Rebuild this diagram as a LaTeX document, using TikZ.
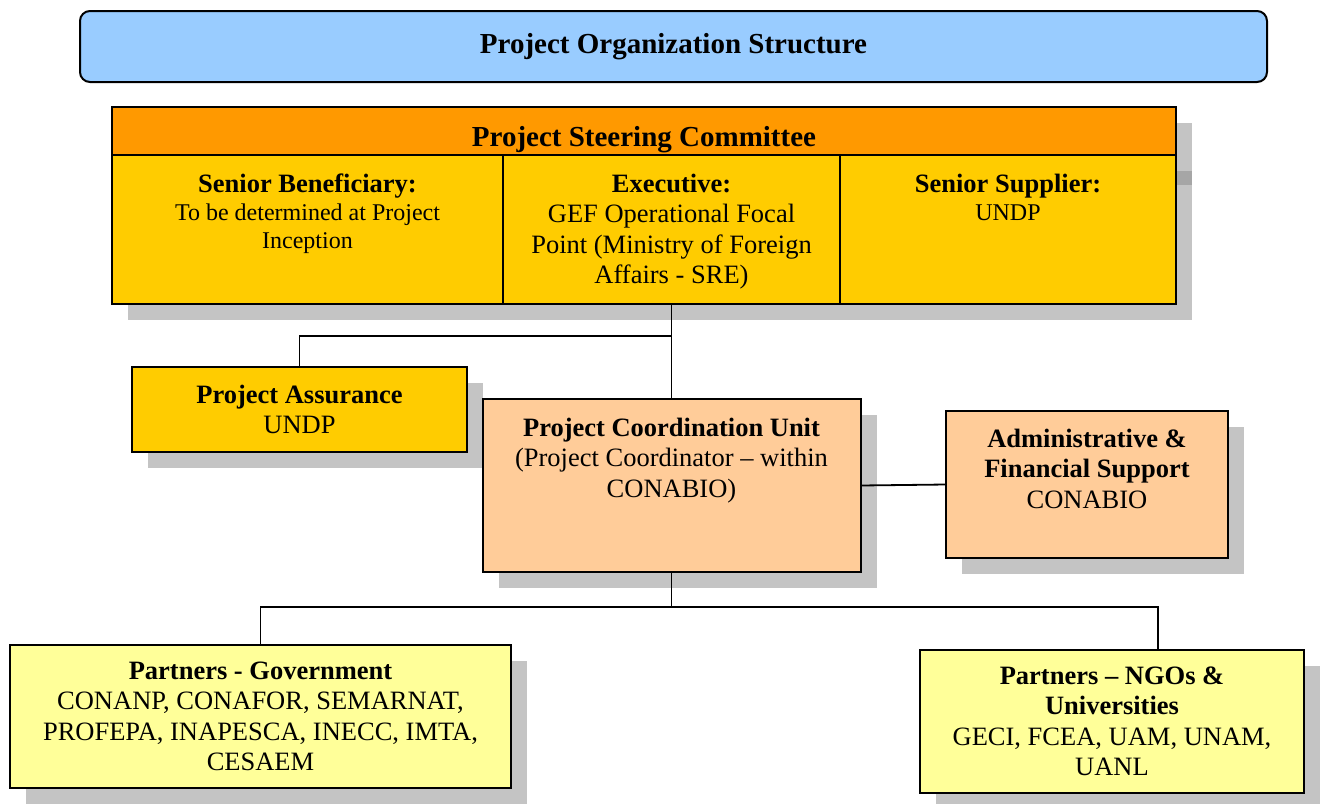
\documentclass[tikz,border=0pt]{standalone}
\usepackage{fontspec}
\setmainfont{Liberation Serif}
\usetikzlibrary{positioning,shadows}
\definecolor{titleblue}{HTML}{99CCFF}
\definecolor{headorange}{HTML}{FF9900}
\definecolor{boardgold}{HTML}{FFCC00}
\definecolor{unitpeach}{HTML}{FFCC99}
\definecolor{partneryellow}{HTML}{FFFF99}
\definecolor{shadowgray}{HTML}{C4C4C4}
\definecolor{shadowdark}{HTML}{A6A6A6}
\tikzset
{
	my box/.style={draw,line width=2pt,inner sep=0pt,outer sep=0pt,
		drop shadow={shadow xshift=16pt,shadow yshift=-16pt,fill=shadowgray,opacity=1}},
	my text/.style={align=center,inner sep=0pt,anchor=north,font=\fontsize{26.5}{30.5}\selectfont},
	my small text/.style={my text,font=\fontsize{24}{28}\selectfont},
	my link/.style={line width=1.8pt}
}
\newcommand\bighead[1]{{\fontsize{26.5}{30}\selectfont\bfseries #1}}

\begin{document}
\begin{tikzpicture}[x=1pt,y=-1pt]
	\useasboundingbox (0,0) rectangle (1321,803);
	% title bar
	\node[draw,line width=2pt,rounded corners=10pt,fill=titleblue,
		minimum width=1187pt,minimum height=71pt,
		font=\fontsize{29}{33}\selectfont\bfseries] (title) at (673.5,46.5) {Project Organization Structure};
	% steering committee
	\node[my box,fill=headorange,minimum width=1064pt,minimum height=48pt] (psc) at (644,131) {};
	\node[my box,fill=boardgold,anchor=north west,minimum width=391pt,minimum height=149pt] (sb) at (psc.south west) {};
	\node[my box,fill=boardgold,anchor=north west,minimum width=337pt,minimum height=149pt] (ex) at (sb.north east) {};
	\node[my box,fill=boardgold,anchor=north west,minimum width=336pt,minimum height=149pt] (ss) at (ex.north east) {};
	\fill[shadowdark] ([xshift=1pt,yshift=-16pt]psc.south east) rectangle ([xshift=16pt,yshift=-30pt]psc.south east);
	\node[my text,below=19.5pt of psc.north,font=\fontsize{29}{33}\selectfont\bfseries] (psc text) {Project Steering Committee};
	\node[my small text,below=18.5pt of sb.north] (sb text)
		{\bighead{Senior Beneficiary:}\\To be determined at Project\\Inception};
	\node[my text,below=18.5pt of ex.north] (ex text)
		{\textbf{Executive:}\\GEF Operational Focal\\Point (Ministry of Foreign\\Affairs - SRE)};
	\node[my small text,below=18.5pt of ss.north] (ss text)
		{\bighead{Senior Supplier:}\\UNDP};
	% assurance and coordination unit
	\node[my box,fill=boardgold,minimum width=335pt,minimum height=85pt] (pa) at (299.5,409.5) {};
	\node[my text,below=17.5pt of pa.north] (pa text) {\textbf{Project Assurance}\\UNDP};
	\node[my box,fill=unitpeach,minimum width=378pt,minimum height=173pt] (pcu) at (671.5,485.5) {};
	\node[my text,below=18.5pt of pcu.north] (pcu text)
		{\textbf{Project Coordination Unit}\\(Project Coordinator – within\\CONABIO)};
	\node[my box,fill=unitpeach,minimum width=282pt,minimum height=147pt] (afs) at (1087,484.5) {};
	\node[my text,below=17.5pt of afs.north] (afs text)
		{\textbf{Administrative \&}\\\textbf{Financial Support}\\CONABIO};
	% partners
	\node[my box,fill=partneryellow,minimum width=501pt,minimum height=143pt] (gov) at (260.5,716.5) {};
	\node[my text,below=16.5pt of gov.north] (gov text)
		{\textbf{Partners - Government}\\CONANP, CONAFOR, SEMARNAT,\\PROFEPA, INAPESCA, INECC, IMTA,\\CESAEM};
	\node[my box,fill=partneryellow,minimum width=384pt,minimum height=143pt] (ngo) at (1112,721.5) {};
	\node[my text,below=16.5pt of ngo.north] (ngo text)
		{\textbf{Partners – NGOs \&}\\\textbf{Universities}\\GECI, FCEA, UAM, UNAM,\\UANL};
	% connectors
	\coordinate (top bus) at (671.5,336);
	\coordinate (low bus) at (671.5,607);
	\draw[my link] (ex.south) -- (pcu.north);
	\draw[my link] (pa.north) |- (top bus);
	\draw[my link] (pcu.east) -- (afs.west);
	\draw[my link] (pcu.south) -- (low bus);
	\draw[my link] (gov.north) |- (low bus) -| ([xshift=46pt]ngo.north);
\end{tikzpicture}
\end{document}
